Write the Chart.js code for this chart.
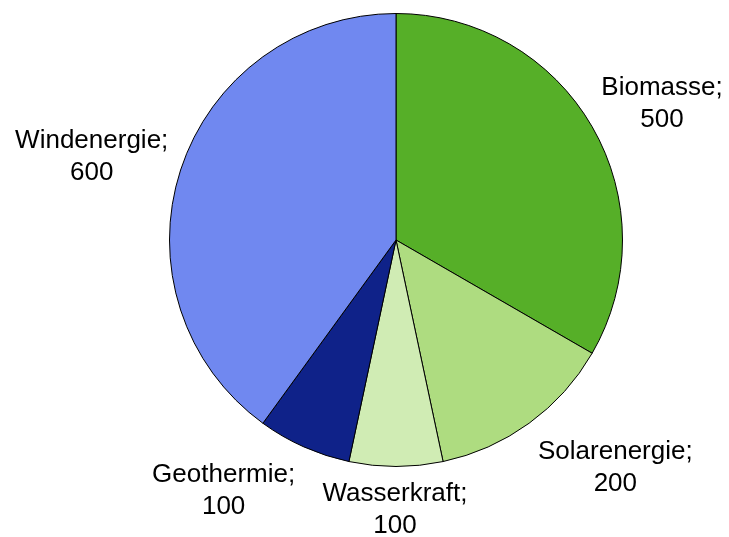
<!DOCTYPE html>
<html>
<head>
<meta charset="utf-8">
<script src="https://cdn.jsdelivr.net/npm/chart.js@4"></script>
<style>
  html, body { margin: 0; padding: 0; background: #fff; }
  #wrap { width: 729px; height: 537px; }
</style>
</head>
<body>
<div id="wrap"><canvas id="chart"></canvas></div>
<script>
const labels = ['Biomasse', 'Solarenergie', 'Wasserkraft', 'Geothermie', 'Windenergie'];
const values = [500, 200, 100, 100, 600];
const colors = ['#56AF28', '#AEDC80', '#D0ECB4', '#0F2289', '#7088F0'];

// Excel-like outside labels: "Name;" over value, pushed out along the slice middle
const labelNudge = [[0, 2], [29, 4], [-1, -7], [-43, -2], [3, 2]];

const outsideLabels = {
  id: 'outsideLabels',
  afterDatasetsDraw(chart) {
    const ctx = chart.ctx;
    const meta = chart.getDatasetMeta(0);
    ctx.save();
    ctx.font = '26px "Liberation Sans", Arial, sans-serif';
    ctx.fillStyle = '#000';
    ctx.textAlign = 'center';
    ctx.textBaseline = 'middle';
    meta.data.forEach(function(arc, i) {
      const mid = (arc.startAngle + arc.endAngle) / 2;
      const dx = Math.cos(mid), dy = Math.sin(mid);
      const line1 = labels[i] + ';';
      const hw = ctx.measureText(line1).width / 2;
      const hh = 30;
      const gap = 20;
      const x = arc.x + dx * (arc.outerRadius + gap) + dx * hw + labelNudge[i][0];
      const y = arc.y + dy * (arc.outerRadius + gap) + dy * hh + labelNudge[i][1];
      ctx.fillText(line1, x, y - 16);
      ctx.fillText(String(values[i]), x, y + 16);
    });
    ctx.restore();
  }
};

const chart = new Chart(document.getElementById('chart').getContext('2d'), {
  type: 'pie',
  data: {
    labels: labels,
    datasets: [{
      data: values,
      backgroundColor: colors,
      borderColor: '#000',
      borderWidth: 1
    }]
  },
  options: {
    responsive: true,
    maintainAspectRatio: false,
    animation: false,
    layout: { padding: { top: 13, bottom: 70, left: 169, right: 106 } },
    plugins: {
      legend: { display: false },
      tooltip: { enabled: false }
    }
  },
  plugins: [outsideLabels]
});
</script>
</body>
</html>
